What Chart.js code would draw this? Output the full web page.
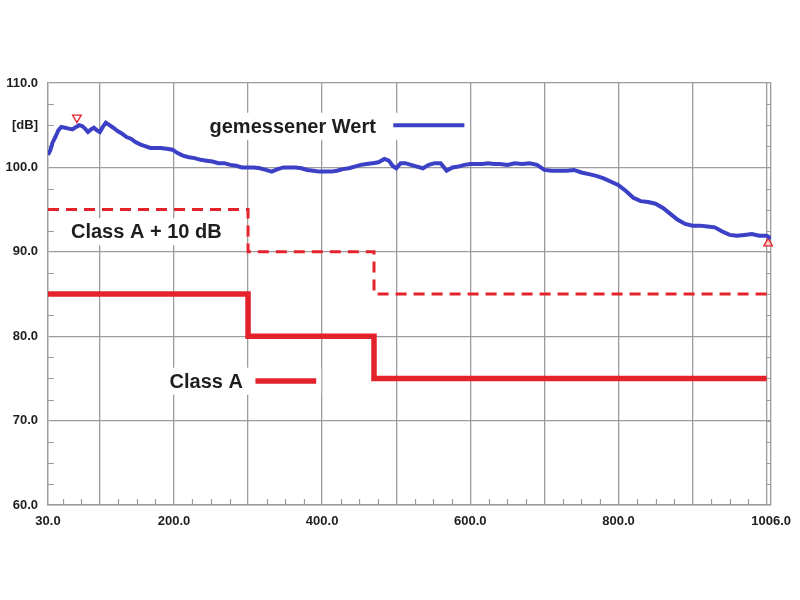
<!DOCTYPE html>
<html>
<head>
<meta charset="utf-8">
<script src="https://cdn.jsdelivr.net/npm/chart.js@4.4.1/dist/chart.umd.min.js"></script>
<style>
  html, body { margin: 0; padding: 0; background: #fff; }
  canvas { display: block; }
</style>
</head>
<body>
<canvas id="chart" width="800" height="600"></canvas>
<script>
const measX = [
  30, 33, 36, 40, 44, 48, 53, 58, 63, 68,
  72, 76, 80, 84, 88, 92, 96, 100, 104, 108,
  113, 118, 124, 130, 136, 142, 148, 155, 162, 168,
  175, 182, 190, 198, 205, 212, 220, 228, 236, 244,
  252, 260, 268, 276, 284, 292, 300, 308, 316, 324,
  332, 340, 348, 356, 364, 372, 380, 388, 396, 404,
  412, 420, 428, 436, 444, 452, 460, 468, 476, 484,
  490, 495, 500, 506, 512, 520, 528, 536, 544, 552,
  560, 568, 576, 584, 592, 600, 608, 616, 624, 632,
  640, 650, 660, 670, 680, 690, 700, 710, 720, 730,
  740, 750, 760, 770, 780, 790, 800, 810, 820, 830,
  840, 850, 860, 870, 880, 890, 900, 910, 920, 930,
  940, 950, 960, 970, 980, 990, 1000, 1006
];
const measY = [
  101.5, 102.0, 102.9, 103.6, 104.4, 104.8, 104.7, 104.6, 104.5, 104.8,
  105.0, 104.9, 104.6, 104.2, 104.5, 104.7, 104.4, 104.2, 104.8, 105.3,
  105.0, 104.7, 104.3, 104.0, 103.6, 103.4, 103.0, 102.7, 102.5, 102.3,
  102.3, 102.3, 102.2, 102.1, 101.7, 101.4, 101.2, 101.1, 100.9, 100.8,
  100.7, 100.5, 100.5, 100.3, 100.2, 100.0, 100.0, 100.0, 99.9, 99.7,
  99.5, 99.8, 100.0, 100.0, 100.0, 99.9, 99.7, 99.6, 99.5, 99.5,
  99.5, 99.6, 99.8, 99.9, 100.1, 100.3, 100.4, 100.5, 100.6, 101.0,
  100.8, 100.2, 99.9, 100.5, 100.5, 100.3, 100.1, 99.9, 100.3, 100.5,
  100.5, 99.6, 100.0, 100.1, 100.3, 100.4, 100.4, 100.4, 100.5, 100.4,
  100.4, 100.3, 100.5, 100.4, 100.5, 100.3, 99.7, 99.6, 99.6, 99.6,
  99.7, 99.4, 99.2, 99.0, 98.7, 98.3, 97.9, 97.2, 96.4, 96.0,
  95.9, 95.7, 95.2, 94.5, 93.8, 93.3, 93.1, 93.1, 93.0, 92.9,
  92.4, 92.0, 91.9, 92.0, 92.1, 91.9, 91.9, 91.6
];

// limit lines (stepped)
const stepX = [30, 300, 470, 1000];
const classA = [85, 80, 75, 75];
const classA10 = [95, 90, 85, 85];

// max / min markers
const maxMarkX = [69];
const maxMarkY = [105.9];
const minMarkX = [1002];
const minMarkY = [91.0];

// axis labels
const xLabelValues = [30, 200, 400, 600, 800, 1006];
const yLabelValues = [60, 70, 80, 90, 100, 110];
const yUnitValue = 105;
const yUnitText = '[dB]';

const RED = '#e3222c';
const BLUE = '#3b40c6';
const GRID = '#9c9c9c';
const TEXT = '#1e1e1e';

const pts = (xs, ys) => xs.map((v, i) => ({ x: v, y: ys[i] }));

// text notes inside the plot (x, y are data units of the text baseline start)
const notes = [
  { text: 'gemessener Wert', x: 248, y: 104.1, seg: [496, 592, 105.0], color: BLUE, width: 4 },
  { text: 'Class A + 10 dB', x: 61, y: 91.6 },
  { text: 'Class A', x: 194, y: 73.9, seg: [310, 392, 74.7], color: RED, width: 5.5 }
];
const noteFont = 'bold 20px "Liberation Sans", Arial, sans-serif';

const decor = {
  id: 'decor',
  beforeDatasetsDraw(chart) {
    const { ctx, scales: { x, y } } = chart;
    ctx.save();
    ctx.strokeStyle = GRID;
    ctx.lineWidth = 1.2;
    ctx.beginPath();
    const bottom = y.getPixelForValue(60);
    for (let v = 50; v < 1006; v += 25) {
      if (v % 100 === 0) continue;
      const px = Math.round(x.getPixelForValue(v)) + 0.5;
      ctx.moveTo(px, bottom);
      ctx.lineTo(px, bottom - 6);
    }
    const l = x.getPixelForValue(30);
    const r1 = x.getPixelForValue(1000);
    const r2 = x.getPixelForValue(1006);
    for (let v = 62.5; v < 110; v += 2.5) {
      const py = Math.round(y.getPixelForValue(v)) + 0.5;
      if (v % 10 !== 0) {
        ctx.moveTo(l, py);
        ctx.lineTo(l + 6, py);
      }
      ctx.moveTo(r1, py);
      ctx.lineTo(r2, py);
    }
    ctx.stroke();

    // white boxes under the notes
    ctx.font = noteFont;
    ctx.fillStyle = '#fff';
    notes.forEach(n => {
      const tx = x.getPixelForValue(n.x);
      const ty = y.getPixelForValue(n.y);
      let right = tx + ctx.measureText(n.text).width;
      if (n.seg) right = x.getPixelForValue(n.seg[1]);
      ctx.fillRect(tx - 5, ty - 20, right - tx + 10, 27);
    });
    ctx.restore();
  },
  afterDatasetsDraw(chart) {
    const { ctx, scales: { x, y } } = chart;
    ctx.save();
    ctx.font = noteFont;
    ctx.fillStyle = TEXT;
    ctx.textBaseline = 'alphabetic';
    ctx.textAlign = 'left';
    notes.forEach(n => {
      ctx.fillText(n.text, x.getPixelForValue(n.x), y.getPixelForValue(n.y));
      if (n.seg) {
        const py = y.getPixelForValue(n.seg[2]);
        ctx.strokeStyle = n.color;
        ctx.lineWidth = n.width;
        ctx.beginPath();
        ctx.moveTo(x.getPixelForValue(n.seg[0]), py);
        ctx.lineTo(x.getPixelForValue(n.seg[1]), py);
        ctx.stroke();
      }
    });
    ctx.restore();
  }
};

const axisFont = { family: '"Liberation Sans", Arial, sans-serif', size: 13, weight: 'bold' };

new Chart(document.getElementById('chart'), {
  type: 'line',
  data: {
    datasets: [
      {
        label: 'Class A + 10 dB',
        data: pts(stepX, classA10),
        stepped: 'before',
        borderColor: RED,
        borderWidth: 3,
        borderDash: [11, 7],
        pointRadius: 0,
        fill: false
      },
      {
        label: 'Class A',
        data: pts(stepX, classA),
        stepped: 'before',
        borderColor: RED,
        borderWidth: 5.5,
        pointRadius: 0,
        fill: false
      },
      {
        label: 'gemessener Wert',
        data: pts(measX, measY),
        borderColor: BLUE,
        borderWidth: 4,
        pointRadius: 0,
        tension: 0,
        fill: false
      },
      {
        label: 'max',
        data: pts(maxMarkX, maxMarkY),
        showLine: false,
        pointStyle: 'triangle',
        rotation: 180,
        pointRadius: 5,
        pointBorderWidth: 1.3,
        pointBorderColor: RED,
        pointBackgroundColor: '#fff',
        clip: false
      },
      {
        label: 'min',
        data: pts(minMarkX, minMarkY),
        showLine: false,
        pointStyle: 'triangle',
        pointRadius: 5,
        pointBorderWidth: 1.3,
        pointBorderColor: RED,
        pointBackgroundColor: '#fbd0d0',
        clip: false
      }
    ]
  },
  options: {
    responsive: false,
    animation: false,
    layout: { padding: { top: 83, right: 25, left: 0, bottom: 0 } },
    plugins: {
      legend: { display: false },
      tooltip: { enabled: false }
    },
    scales: {
      x: {
        type: 'linear',
        min: 30,
        max: 1006,
        afterBuildTicks: scale => {
          const vals = [30, 1006];
          for (let v = 100; v <= 1000; v += 100) vals.push(v);
          scale.ticks = vals.sort((a, b) => a - b).map(v => ({ value: v }));
        },
        afterFit: scale => { scale.height = 95; },
        ticks: {
          autoSkip: false,
          maxRotation: 0,
          padding: 9,
          color: TEXT,
          font: axisFont,
          callback: v => xLabelValues.includes(v) ? v.toFixed(1) : ''
        },
        grid: {
          drawTicks: false,
          lineWidth: 1.3,
          color: c => (c.tick && c.tick.value % 100 === 0) || (c.tick && c.tick.value === 1006) ? GRID : 'rgba(0,0,0,0)'
        },
        border: { color: GRID, width: 1.5 }
      },
      y: {
        min: 60,
        max: 110,
        afterBuildTicks: scale => {
          scale.ticks = yLabelValues.concat([yUnitValue]).sort((a, b) => a - b).map(v => ({ value: v }));
        },
        afterFit: scale => { scale.width = 48; },
        ticks: {
          autoSkip: false,
          padding: 10,
          color: TEXT,
          font: axisFont,
          callback: v => v === yUnitValue ? yUnitText : (yLabelValues.includes(v) ? v.toFixed(1) : '')
        },
        grid: {
          drawTicks: false,
          lineWidth: 1.3,
          color: c => c.tick && c.tick.value % 10 === 0 ? GRID : 'rgba(0,0,0,0)'
        },
        border: { color: GRID, width: 1.5 }
      }
    }
  },
  plugins: [decor]
});
</script>
</body>
</html>
